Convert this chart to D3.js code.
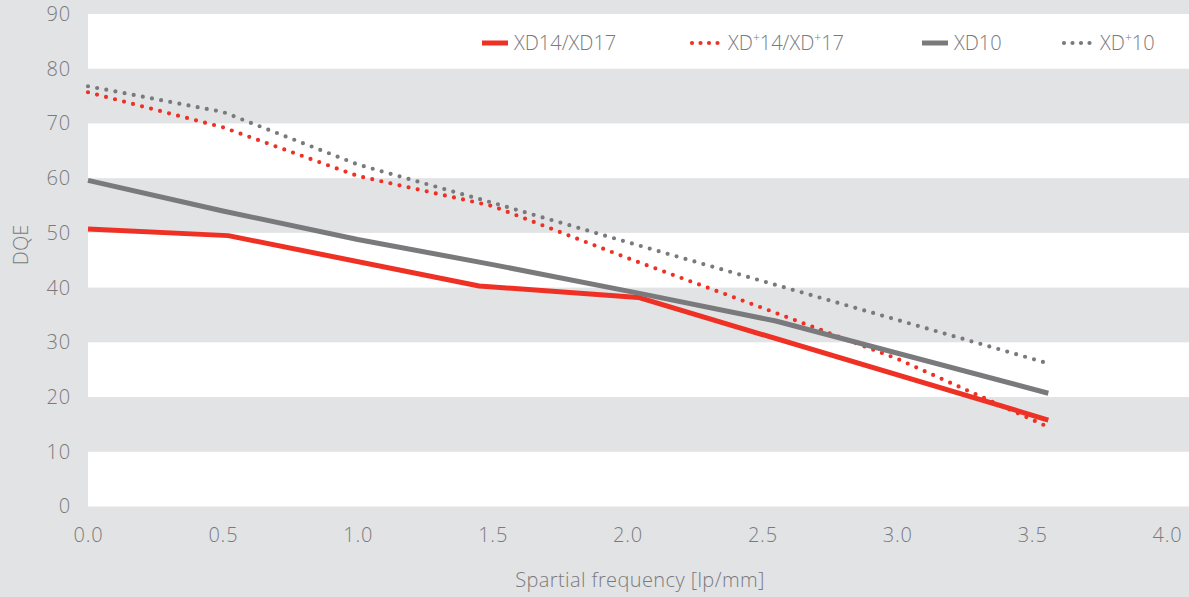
<!DOCTYPE html>
<html>
<head>
<meta charset="utf-8">
<script src="https://cdn.jsdelivr.net/npm/d3@7"></script>
<style>
  body { margin: 0; background: #e2e3e5; }
  text { font-family: "Open Sans", Lato, sans-serif; font-weight: 300; fill: #7a7a7d; }
</style>
</head>
<body>
<div id="chart"></div>
<script>
// data
var xdFreq   = [0, 0.52, 1.45, 2.04, 3.56];
var xdVals   = [50.7, 49.5, 40.3, 38.2, 15.8];
var xdpFreq  = [0, 0.5, 1.0, 1.5, 2.0, 2.5, 3.0, 3.57];
var xdpVals  = [75.7, 69.3, 60.4, 54.9, 45.4, 36.3, 27.0, 14.3];
var xd10Freq = [0, 0.5, 1.0, 1.5, 2.04, 2.55, 3.56];
var xd10Vals = [59.6, 54.0, 48.8, 44.2, 39.0, 33.9, 20.7];
var xdp10Freq = [0, 0.5, 1.0, 1.5, 2.0, 2.5, 3.0, 3.57];
var xdp10Vals = [76.8, 72.1, 62.5, 55.5, 48.3, 41.2, 34.1, 26.0];
var xTicks = [0, 0.5, 1, 1.5, 2, 2.5, 3, 3.5, 4];
var yTicks = [0, 10, 20, 30, 40, 50, 60, 70, 80, 90];
var whiteBands = [0, 20, 40, 60, 80];

var series = [
  { name: ["XD14/XD17"], x: xdFreq, y: xdVals, color: "#ee3124", dotted: false },
  { name: ["XD", "+", "14/XD", "+", "17"], x: xdpFreq, y: xdpVals, color: "#ee3124", dotted: true },
  { name: ["XD10"], x: xd10Freq, y: xd10Vals, color: "#7a7a7d", dotted: false },
  { name: ["XD", "+", "10"], x: xdp10Freq, y: xdp10Vals, color: "#7a7a7d", dotted: true }
];

var width = 1189, height = 597;
var svg = d3.select("#chart").append("svg")
  .attr("width", width)
  .attr("height", height);

var x = d3.scaleLinear().domain([0, 4]).range([88, 1167]);
var y = d3.scaleLinear().domain([0, 90]).range([506.5, 14]);

svg.append("rect").attr("width", width).attr("height", height).attr("fill", "#e2e3e5");

// white stripes
svg.append("g").selectAll("rect")
  .data(whiteBands)
  .enter().append("rect")
  .attr("x", x(0))
  .attr("width", width - x(0))
  .attr("y", d => y(d + 10))
  .attr("height", d => y(d) - y(d + 10))
  .attr("fill", "#ffffff");

// axes, no lines just labels
var xAxis = svg.append("g")
  .attr("transform", "translate(0," + y(0) + ")")
  .call(d3.axisBottom(x).tickValues(xTicks).tickFormat(d3.format(".1f")).tickSize(0).tickPadding(21));
var yAxis = svg.append("g")
  .attr("transform", "translate(" + (x(0) - 17) + ",0)")
  .call(d3.axisLeft(y).tickValues(yTicks).tickSize(0).tickPadding(0));
[xAxis, yAxis].forEach(function (a) {
  a.select(".domain").remove();
  a.selectAll("text").attr("font-family", null)
    .style("font-size", "20px").style("letter-spacing", "0.8px").attr("fill", "#7a7a7d");
});

svg.append("text")
  .attr("x", 640).attr("y", 587)
  .attr("text-anchor", "middle")
  .style("font-size", "20px")
  .style("letter-spacing", "0.4px")
  .text("Spartial frequency [lp/mm]");

svg.append("text")
  .attr("transform", "translate(28,245) rotate(-90)")
  .attr("text-anchor", "middle")
  .style("font-size", "20px")
  .text("DQE");

// lines
var line = d3.line().x(d => x(d[0])).y(d => y(d[1]));
series.forEach(function (s) {
  var pts = s.x.map((v, i) => [v, s.y[i]]);
  var p = svg.append("path")
    .datum(pts)
    .attr("d", line)
    .attr("fill", "none")
    .attr("stroke", s.color);
  if (s.dotted) {
    p.attr("stroke-width", 4.2).attr("stroke-linecap", "round").attr("stroke-dasharray", "0 9.3");
  } else {
    p.attr("stroke-width", 5).attr("stroke-linejoin", "round");
  }
});

// legend
var legendX = [482, 690, 922, 1062];
var legend = svg.append("g");
series.forEach(function (s, i) {
  var lx = legendX[i];
  var sw = legend.append("line")
    .attr("x1", lx).attr("x2", lx + (s.dotted ? 30 : 26))
    .attr("y1", 43).attr("y2", 43)
    .attr("stroke", s.color);
  if (s.dotted) {
    sw.attr("x1", lx + 2).attr("stroke-width", 4.2).attr("stroke-linecap", "round").attr("stroke-dasharray", "0 8.5");
  } else {
    sw.attr("stroke-width", 5);
  }
  var t = legend.append("text")
    .attr("x", lx + (s.dotted ? 38 : 32))
    .attr("y", 50)
    .style("font-size", "20px");
  s.name.forEach(function (part) {
    if (part === "+") {
      t.append("tspan").attr("dy", -8).style("font-size", "12px").text("+");
    } else {
      var ts = t.append("tspan").text(part);
      if (t.selectAll("tspan").size() > 1) ts.attr("dy", 8);
    }
  });
});
</script>
</body>
</html>
